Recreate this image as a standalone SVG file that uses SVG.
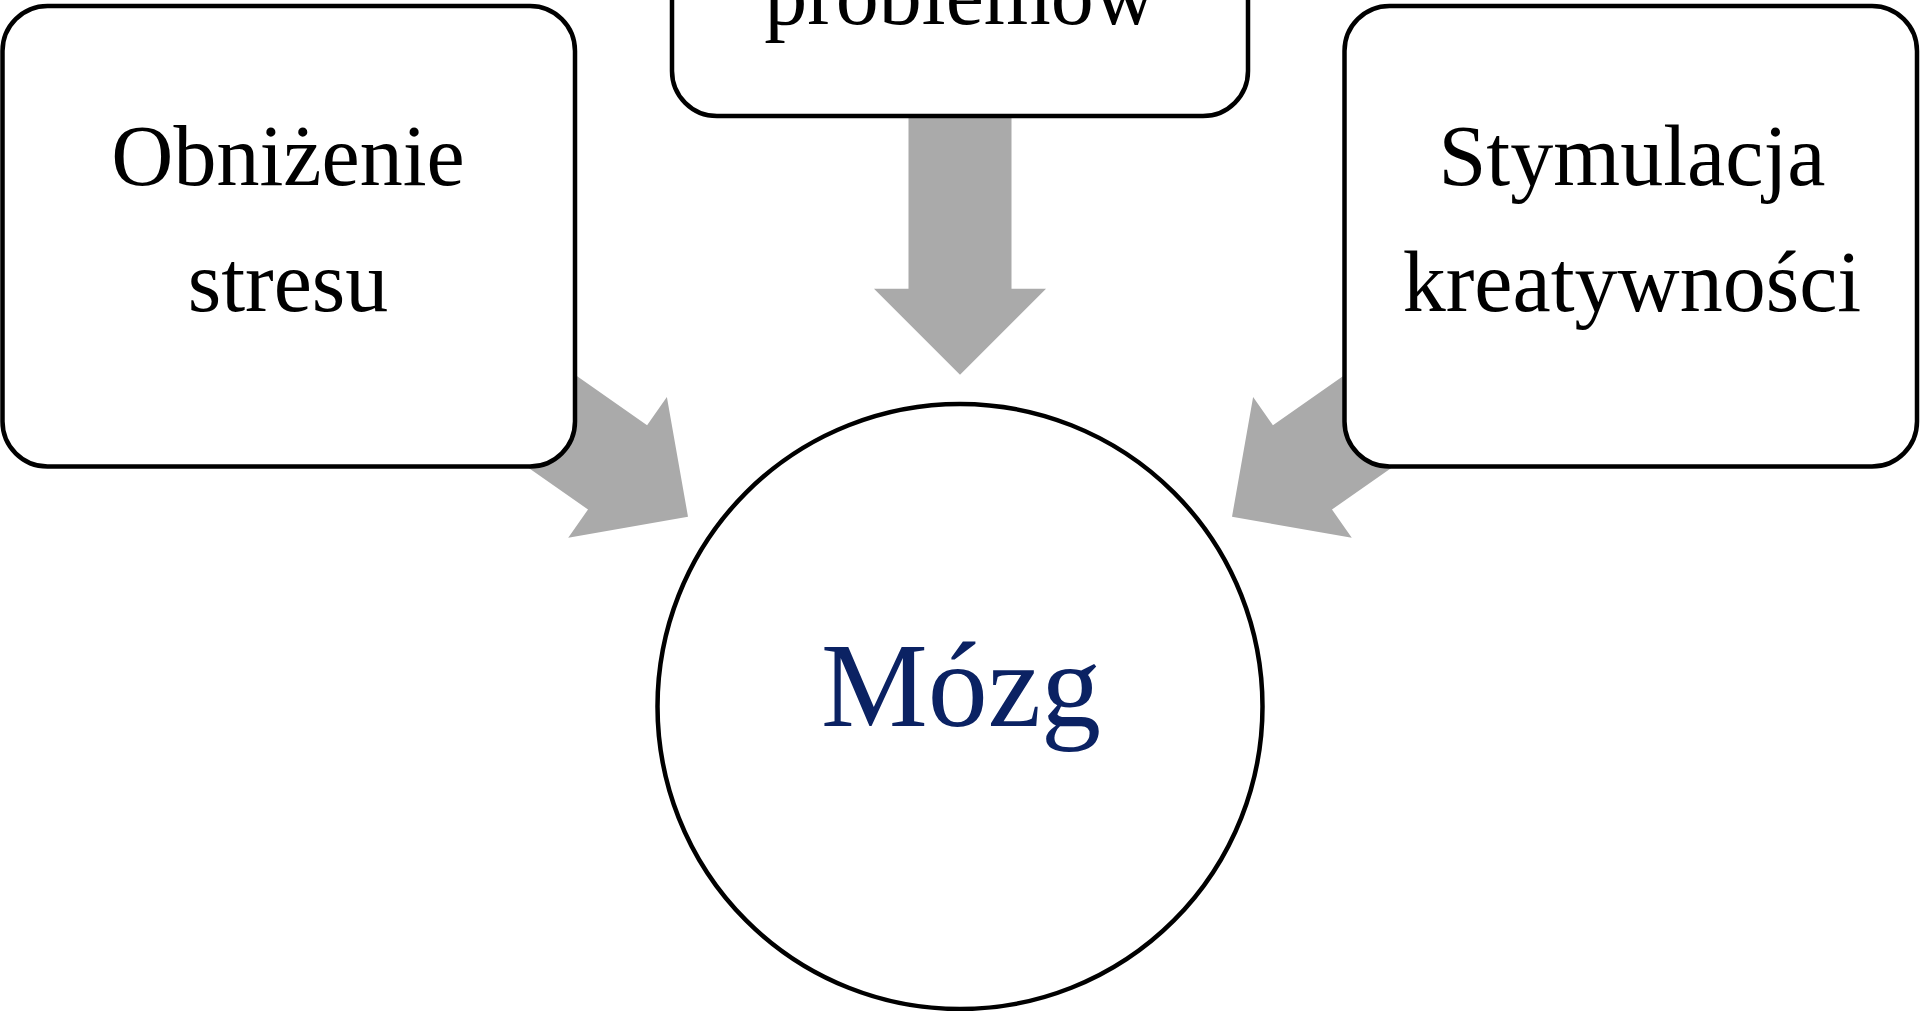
<svg xmlns="http://www.w3.org/2000/svg" width="1920" height="1011" viewBox="0 0 1920 1011">
<style>
.box{fill:#fff;stroke:#000;stroke-width:4.5}
.arr{fill:#aaaaaa}
.lbl{font-family:"Liberation Serif","DejaVu Serif",serif;font-size:86px;fill:#000;text-anchor:middle}
.main{font-family:"Liberation Serif","DejaVu Serif",serif;font-size:120px;fill:#0b2263;text-anchor:middle}
</style>
<defs>
<polygon id="arrowShape" points="0,0 -86,-86 -86,-51.5 -330,-51.5 -330,51.5 -86,51.5 -86,86"/>
</defs>
<rect width="1920" height="1011" fill="#fff"/>
<g id="connectors">
<use href="#arrowShape" class="arr" transform="translate(960,374.7) rotate(90)"/>
<use href="#arrowShape" class="arr" transform="translate(688,516.7) rotate(35)"/>
<use href="#arrowShape" class="arr" transform="translate(1232,516.7) rotate(145)"/>
</g>
<g id="node-top">
<rect class="box" x="672" y="-344" width="576" height="460" rx="45"/>
<text class="lbl" x="960" y="24">problemów</text>
</g>
<g id="node-left">
<rect class="box" x="2.5" y="6" width="572.5" height="460.5" rx="45"/>
<text class="lbl" x="288" y="185">Obniżenie</text>
<text class="lbl" x="288" y="311">stresu</text>
</g>
<g id="node-right">
<rect class="box" x="1344.5" y="6" width="572.5" height="460.5" rx="45"/>
<text class="lbl" x="1632" y="185">Stymulacja</text>
<text class="lbl" x="1632" y="311">kreatywności</text>
</g>
<g id="node-brain">
<circle class="box" cx="960" cy="706.5" r="302.5"/>
<text class="main" x="961" y="726">Mózg</text>
</g>
</svg>
